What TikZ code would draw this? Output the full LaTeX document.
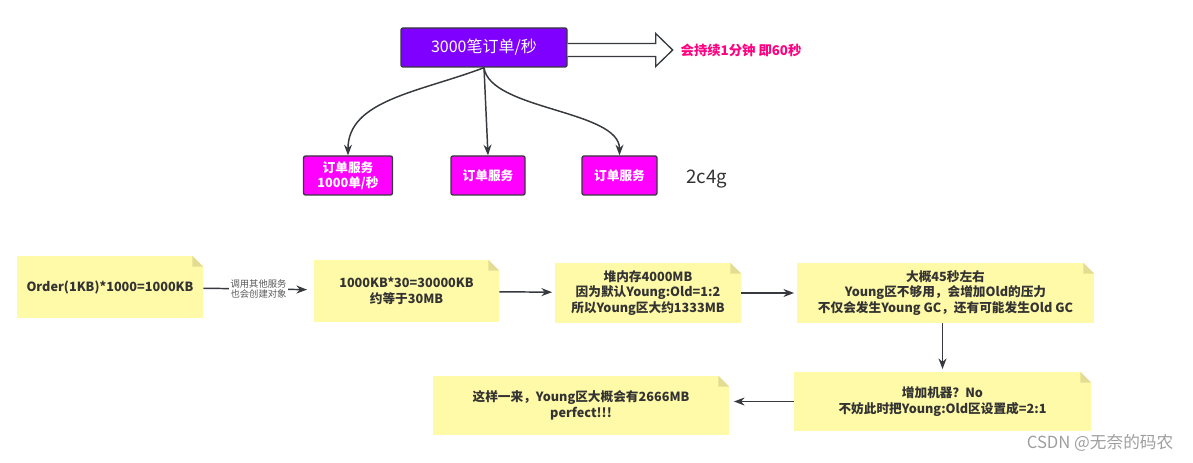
\documentclass[tikz,border=0pt]{standalone}
\usepackage{fontspec}
\setmainfont{Noto Sans CJK SC}
\usetikzlibrary{arrows.meta,calc}
\definecolor{purp}{HTML}{7F00FF}
\definecolor{mag}{HTML}{FF00FF}
\definecolor{edgec}{HTML}{36393D}
\definecolor{noteY}{HTML}{FFFAA8}
\definecolor{foldY}{HTML}{E2DD92}
\definecolor{pinkT}{HTML}{FF0080}
\definecolor{txt}{HTML}{333333}
\newcommand\notefold[1]{%
  \fill[white] (#1.north east) -- ++(-11,0) -- ++(11,11) -- cycle;
  \fill[foldY] ($(#1.north east)+(-11,0)$) -- ++(0,11) -- ++(11,0) -- cycle;}
\begin{document}
\begin{tikzpicture}[x=0.75pt,y=-0.75pt,
  topbox/.style={draw=edgec, fill=purp, rounded corners=1.5pt, line width=1pt,
    minimum width=124.5pt, minimum height=29.25pt, text=white, font=\fontsize{12}{14}\selectfont},
  svc/.style={draw=edgec, fill=mag, rounded corners=1.5pt, line width=1pt,
    minimum height=29.25pt, text=white, align=center, inner sep=1pt,
    font=\bfseries\fontsize{9.5}{11}\selectfont},
  note/.style={fill=noteY, align=center, text=txt, inner sep=0pt,
    font=\bfseries\fontsize{9.5}{11.5}\selectfont},
  conn/.style={draw=edgec, line width=1.1pt, -{Stealth[length=8pt,width=6pt]}, shorten >=2pt},
  lab/.style={fill=white, text=black!65, align=center, inner sep=1pt, font=\fontsize{7}{8}\selectfont}]
\useasboundingbox (0,0) rectangle (1193,463);

% top part
\node[topbox] (top) at (484,47.5) {3000笔订单/秒};
\node[anchor=west, text=pinkT, font=\bfseries\fontsize{10}{12}\selectfont] (lbl) at (676,50) {会持续1分钟 即60秒};
\coordinate (a0) at (top.east |- lbl.west);
\draw[edgec, fill=white, line width=1pt, line join=miter]
  ($(a0)+(0,-6.5)$) -- ++(88,0) -- ++(0,-10) -- ++(17,16.5) -- ++(-17,16.5) -- ++(0,-10) -- ++(-88,0);

\node[svc, minimum width=66.75pt] (b1) at (348,175.5) {订单服务\\1000单/秒};
\node[svc, minimum width=55.5pt] (b2) at (488,175.5) {订单服务};
\node[svc, minimum width=56.25pt] (b3) at (619.5,175.5) {订单服务};
\node[text=txt, font=\fontsize{14}{16}\selectfont] (cfg) at (707,179) {2c4g};

\draw[conn, shorten >=0pt] (top.south) .. controls (420,92) and (b1.north |- 0,100) .. (b1.north);
\draw[conn, shorten >=0pt] (top.south) -- (b2.north);
\draw[conn, shorten >=0pt] (top.south) .. controls (490,110) and (b3.north |- 0,110) .. (b3.north);

% notes
\node[note, minimum width=139.5pt, minimum height=46.5pt] (n1) at (110,287) {Order(1KB)*1000=1000KB};
\node[note, minimum width=138.75pt, minimum height=46.5pt] (n2) at (406.5,291) {1000KB*30=30000KB\\约等于30MB};
\node[note, minimum width=139.5pt, minimum height=45pt] (n3) at (648,293) {堆内存4000MB\\因为默认Young:Old=1:2\\所以Young区大约1333MB};
\node[note, minimum width=222.75pt, minimum height=45pt] (n4) at (945.5,293) {大概45秒左右\\Young区不够用，会增加Old的压力\\不仅会发生Young GC，还有可能发生Old GC};
\node[note, minimum width=222.75pt, minimum height=44.25pt] (n5) at (942.5,401.5) {增加机器？No\\不妨此时把Young:Old区设置成=2:1};
\node[note, minimum width=222pt, minimum height=44.25pt] (n6) at (581,405.5) {这样一来，Young区大概会有2666MB\\perfect!!!};
\foreach \n in {n1,n2,n3,n4,n5,n6}{\notefold{\n}}

\draw[conn, shorten >=5pt] (n1) -- node[lab] {调用其他服务\\也会创建对象} (n2);
\draw[conn] (n2) -- (n3);
\draw[conn] (n3) -- (n4);
\draw[conn] (n5.north |- n4.south) -- (n5.north);
\draw[conn, shorten >=3.5pt] (n5.west) -- (n5.west -| n6.east);

\node[anchor=east, text=black!38, font=\fontsize{12.5}{14}\selectfont] (wm) at (1178,443) {CSDN @无奈的码农};
\end{tikzpicture}
\end{document}
